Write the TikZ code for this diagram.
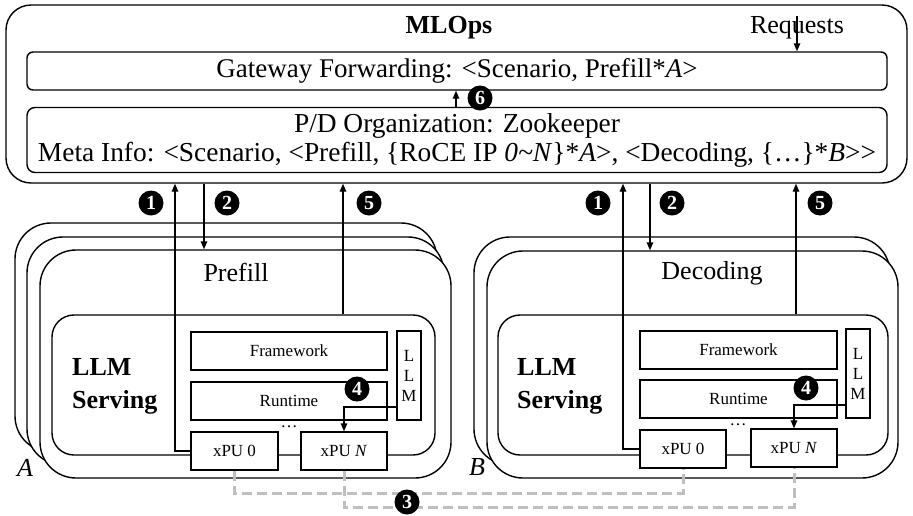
\documentclass[tikz,border=0pt]{standalone}
\usepackage{fontspec}
\setmainfont{Liberation Serif}
\usetikzlibrary{arrows.meta,calc}
\begin{document}
\begin{tikzpicture}[x=1pt,y=-1pt,
  every node/.style={font=\fontsize{26}{30}\selectfont},
  ln/.style={line width=1.4pt},
  rbox/.style={draw, ln, fill=white, inner sep=0pt},
  stackbox/.style={rbox, rounded corners=36pt},
  servbox/.style={rbox, rounded corners=22pt},
  sbox/.style={draw, ln, fill=white, inner sep=0pt, font=\fontsize{17}{20}\selectfont},
  arr/.style={ln, -{Triangle[length=8pt,width=6.5pt]}},
  num/.style={circle, fill=black, text=white, inner sep=0pt, minimum size=25pt, font=\fontsize{20}{20}\selectfont\bfseries},
  dsh/.style={line width=3pt, draw=black!25, dash pattern=on 10pt off 5pt},
  lbl/.style={font=\fontsize{26}{33}\selectfont\bfseries, align=left, anchor=west, inner sep=0pt},
]
\useasboundingbox (0,0) rectangle (913,515);

% ---------- MLOps ----------
\node[rbox, rounded corners=25pt, minimum width=901pt, minimum height=178pt] (outer) at (456.5,94) {};
\node[font=\fontsize{26}{30}\selectfont\bfseries] (mlops) at (449,28) {MLOps};
\node (req) at (797,28) {Requests};
\node[rbox, rounded corners=6pt, minimum width=860pt, minimum height=38pt, font=\fontsize{27}{30}\selectfont] (gw) at (457,71)
  {Gateway Forwarding: <Scenario, Prefill*\textit{A}>};
\node[rbox, rounded corners=8pt, minimum width=860pt, minimum height=65pt, align=center,
      font=\fontsize{27.4}{29}\selectfont] (pd) at (457,140)
  {P/D Organization: Zookeeper\\Meta Info: <Scenario, <Prefill, \{RoCE IP \textit{0\textasciitilde N}\}*\textit{A}>, <Decoding, \{…\}*\textit{B}>\kern0pt>};
\coordinate (reqtop) at (797,16);
\draw[arr] (reqtop) -- (reqtop |- gw.north);
\draw[arr] (456,0 |- pd.north) -- (456,0 |- gw.south);
\node[num] (n6) at (480,98) {6};

% ---------- Prefill ----------
\node[stackbox, minimum width=422pt, minimum height=229pt] (pb3) at (226,337.5) {};
\node[stackbox, minimum width=417pt, minimum height=228pt] (pb2) at (235.5,351) {};
\node[stackbox, minimum width=411pt, minimum height=228pt] (pb1) at (245.5,364) {};
\node (pre) at (236,272) {Prefill};
\node[servbox, minimum width=383pt, minimum height=140pt] (sv1) at (243.5,385) {};
\node[lbl] (ls1) at (72,386) {LLM\\Serving};
\node[sbox, minimum width=196pt, minimum height=38pt] (fw1) at (289,351) {Framework};
\node[sbox, minimum width=196pt, minimum height=38pt] (rt1) at (289,401) {Runtime};
\node[sbox, minimum width=24pt, minimum height=89pt, align=center] (llm1) at (409,375.5) {L\\L\\M};
\node[font=\fontsize{17}{20}\selectfont] (dt1) at (289,427) {…};
\node[sbox, minimum width=87pt, minimum height=38pt] (x01) at (234.5,451) {xPU 0};
\node[sbox, minimum width=86pt, minimum height=38pt] (xn1) at (344,451) {xPU \textit{N}};
\node[font=\fontsize{26}{30}\selectfont\itshape] (la) at (25,468) {A};

% ---------- Decoding ----------
\node[stackbox, minimum width=416pt, minimum height=228pt] (db2) at (682,351) {};
\node[stackbox, minimum width=411pt, minimum height=227pt] (db1) at (692.5,364.5) {};
\node (dec) at (712,273) {Decoding};
\node[servbox, minimum width=390pt, minimum height=140pt] (sv2) at (693,385) {};
\node[lbl] (ls2) at (517,386) {LLM\\Serving};
\node[sbox, minimum width=197pt, minimum height=38pt] (fw2) at (738.5,350) {Framework};
\node[sbox, minimum width=197pt, minimum height=38pt] (rt2) at (738.5,399) {Runtime};
\node[sbox, minimum width=24pt, minimum height=89pt, align=center] (llm2) at (858,373.5) {L\\L\\M};
\node[font=\fontsize{17}{20}\selectfont] (dt2) at (738,425) {…};
\node[sbox, minimum width=86pt, minimum height=38pt] (x02) at (683,449) {xPU 0};
\node[sbox, minimum width=86pt, minimum height=38pt] (xn2) at (794,448) {xPU \textit{N}};
\node[font=\fontsize{26}{30}\selectfont\itshape] (lb) at (477,467) {B};

% ---------- arrows Prefill ----------
\draw[arr] (x01.west) -| (175,0 |- outer.south);
\draw[arr] (204,0 |- outer.south) -- (204,0 |- pb1.north);
\draw[arr] (343,0 |- sv1.north) -- (343,0 |- outer.south);
\draw[arr] (llm1.west |- 0,407) -| (xn1.north);
\node[num] (n1a) at (151,203) {1};
\node[num] (n2a) at (227,203) {2};
\node[num] (n5a) at (369,203) {5};
\node[num] (n4a) at (357,389) {4};

% ---------- arrows Decoding ----------
\draw[arr] (x02.west) -| (623,0 |- outer.south);
\draw[arr] (650,0 |- outer.south) -- (650,0 |- db1.north);
\draw[arr] (796,0 |- sv2.north) -- (796,0 |- outer.south);
\draw[arr] (llm2.west |- 0,405) -| (xn2.north);
\node[num] (n1b) at (598,203) {1};
\node[num] (n2b) at (672,203) {2};
\node[num] (n5b) at (820,203) {5};
\node[num] (n4b) at (806,388) {4};

% ---------- dashed RoCE ----------
\draw[dsh] (x01.south) -- (x01.south |- 0,493) -| (x02.south);
\draw[dsh] (xn1.south) -- (xn1.south |- 0,507) -| (xn2.south);
\node[num] (n3) at (407,502) {3};
\end{tikzpicture}
\end{document}
